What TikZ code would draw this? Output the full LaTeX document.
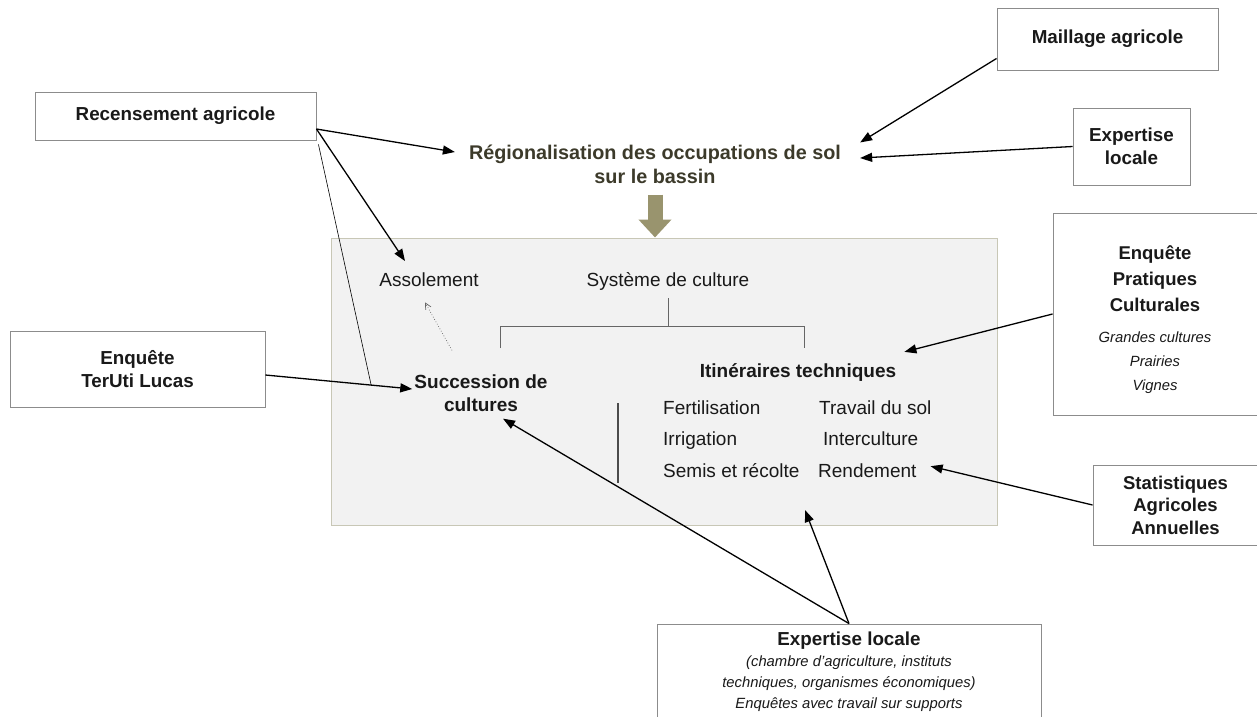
\documentclass[tikz,border=0pt]{standalone}
\usepackage{fontspec}
\setmainfont{Liberation Sans}
\usetikzlibrary{arrows.meta}
\definecolor{terre}{RGB}{153,148,110}
\definecolor{titre}{RGB}{60,58,42}
\definecolor{fond}{RGB}{242,242,242}
\definecolor{bord}{RGB}{200,199,182}
\begin{document}
\begin{tikzpicture}[x=1pt,y=-1pt,
		txt/.style={font=\fontsize{19}{23}\selectfont, text=black!90, inner sep=2pt},
		gras/.style={txt, font=\fontsize{18.8}{23}\selectfont\bfseries, align=center},
		ital/.style={font=\fontsize{14.8}{24}\selectfont\itshape, text=black!90, align=center, inner sep=0pt},
		boite/.style={draw=black!45, line width=0.9pt, fill=white},
		fleche/.style={-{Triangle[length=12pt,width=9pt]}, line width=1.3pt},
		trait/.style={draw=black!60, line width=0.9pt}]
		\useasboundingbox (0,0) rectangle (1257,716);
		%
		\node[draw=bord, fill=fond, line width=1pt, minimum width=666pt, minimum height=287pt] (gris) at (664,381.5) {};
		\node[gras, text=titre, font=\fontsize{19.8}{24}\selectfont\bfseries] (reg) at (655,164) {Régionalisation des occupations de sol\\sur le bassin};
		%
		\node[boite, gras, minimum width=281pt, minimum height=48pt] (rec) at (175.5,116) {Recensement agricole};
		\node[boite, gras, minimum width=221pt, minimum height=62pt] (mail) at (1107.5,39) {Maillage agricole};
		\node[boite, gras, minimum width=117pt, minimum height=77pt] (expH) at (1131.5,146.5) {Expertise\\locale};
		\node[boite, minimum width=205pt, minimum height=202pt] (epc) at (1155.5,314) {};
		\node[gras, font=\fontsize{18.5}{26}\selectfont\bfseries] (epcT) at (1155,279) {Enquête\\Pratiques\\Culturales};
		\node[ital] (epcS) at (1155,363) {Grandes cultures\\Prairies\\Vignes};
		\node[boite, gras, minimum width=255pt, minimum height=76pt] (ter) at (137.5,369) {Enquête\\TerUti Lucas};
		\node[boite, gras, font=\fontsize{18.5}{22.5}\selectfont\bfseries, minimum width=165pt, minimum height=80pt] (stat) at (1175.5,505) {Statistiques\\Agricoles\\Annuelles};
		\node[boite, minimum width=384pt, minimum height=120pt] (expB) at (849,684) {};
		\node[gras] (expBT) at (849,641) {Expertise locale};
		\node[ital, font=\fontsize{14.8}{21}\selectfont\itshape] (expBS) at (849,684) {(chambre d'agriculture, instituts\\techniques, organismes économiques)\\Enquêtes avec travail sur supports};
		%
		\node[txt, anchor=base] (asso) at (429,286) {Assolement};
		\node[txt, anchor=base] (sdc) at (668,286) {Système de culture};
		\node[gras, font=\fontsize{19}{23}\selectfont\bfseries] (succ) at (481,393) {Succession de\\cultures};
		\node[gras, font=\fontsize{19}{23}\selectfont\bfseries] (itk) at (798,372) {Itinéraires techniques};
		\node[txt, anchor=base west] (fert) at (661,414) {Fertilisation};
		\node[txt, anchor=base west] (trav) at (817,414) {Travail du sol};
		\node[txt, anchor=base west] (irri) at (661,445) {Irrigation};
		\node[txt, anchor=base west] (inter) at (821,445) {Interculture};
		\node[txt, anchor=base west] (semis) at (661,477) {Semis et récolte};
		\node[txt, anchor=base west] (rend) at (816,477) {Rendement};
		%
		\coordinate (noeud) at (668,326);
		\draw[trait] ([yshift=-6pt]sdc.south) -- (noeud);
		\draw[trait] (500,348) |- (noeud) -| (804,348);
		\draw[draw=black!70, line width=1.2pt] (618,403) -- (618,483);
		%
		\draw[draw=terre, line width=15pt, -{Triangle[length=18pt,width=32pt]}] ([yshift=-9pt]reg.south) -- (reg.south |- gris.north);
		%
		\draw[fleche] ([yshift=-13pt]rec.east) -- ([xshift=-12pt,yshift=12pt]reg.west);
		\draw[fleche] ([yshift=-13pt]rec.east) -- ([xshift=-24pt,yshift=9pt]asso.north);
		\draw[fleche] ([yshift=-6pt]ter.east) -- coordinate[pos=0.72] (pied) ([yshift=4pt]succ.west);
		\draw[line width=0.6pt] ([xshift=2pt,yshift=-4pt]rec.south east) -- (pied);
		\draw[fleche] ([yshift=12pt]mail.south west) -- ([xshift=17pt]reg.north east);
		\draw[fleche] (expH.west) -- ([xshift=17pt,yshift=6pt]reg.east);
		\draw[fleche] (epc.west) -- ([xshift=6pt,yshift=9pt]itk.north east);
		\draw[fleche] (stat.west) -- ([xshift=12pt,yshift=4pt]rend.east);
		\draw[fleche] (expB.north) -- ([xshift=22pt,yshift=-5pt]succ.south);
		\coordinate (itkbas) at (805,510);
		\draw[fleche] (expB.north) -- (itkbas);
		\draw[draw=black!60, line width=0.7pt, dotted, -{Straight Barb[length=6pt,width=6pt]}] ([xshift=-29pt,yshift=22pt]succ.north) -- ([xshift=-4pt,yshift=-14pt]asso.south);
	\end{tikzpicture}
\end{document}
